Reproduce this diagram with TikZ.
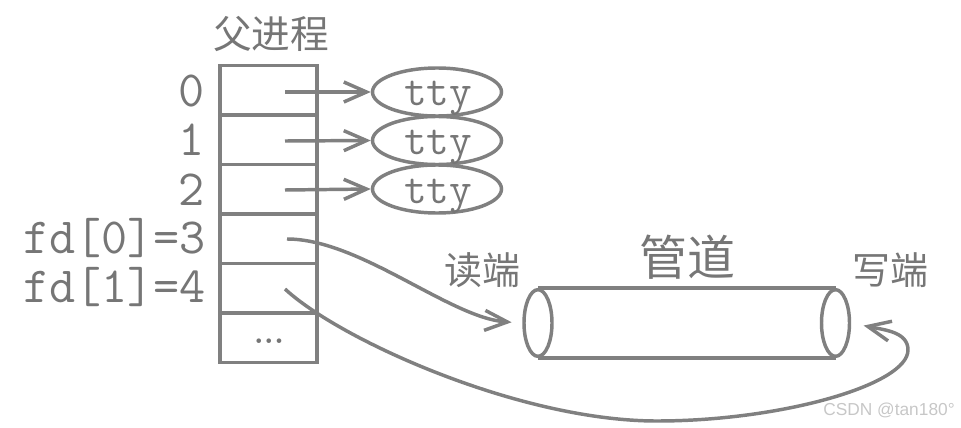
\documentclass[tikz,border=0pt]{standalone}
\usepackage{fontspec}
\newfontfamily\cjk{Noto Sans CJK SC}
\newfontfamily\wmfont{Liberation Sans}
\usetikzlibrary{arrows.meta,shapes.geometric}
\definecolor{lc}{RGB}{128,128,128}
\definecolor{tc}{RGB}{118,118,118}
\begin{document}
\begin{tikzpicture}[x=0.75pt,y=-0.75pt,
  line/.style={draw=lc, line width=2.6pt},
  arr/.style={draw=lc, line width=2.6pt, -{Straight Barb[length=17pt,width=15pt]}},
  cell/.style={draw=lc, line width=2.6pt, minimum width=72.75pt, minimum height=37.125pt, inner sep=0pt},
  ttyn/.style={ellipse, draw=lc, line width=2.6pt, minimum width=96.75pt, minimum height=36pt, inner sep=0pt},
  ttytxt/.style={text=tc, font=\ttfamily\fontsize{33}{33}\selectfont, anchor=base, inner sep=0pt},
  lab/.style={text=tc, font=\ttfamily\fontsize{38}{38}\selectfont, anchor=base east, inner sep=0pt},
  cn/.style={text=tc, inner sep=0pt},
  pend/.style={ellipse, draw=lc, line width=2.6pt, minimum width=21pt, minimum height=50pt, inner sep=0pt}
]
\useasboundingbox (0,0) rectangle (961,428);

% title
\node[cn, font=\cjk\fontsize{29}{29}\selectfont] (title) at (271,34) {父进程};

% table cells
\node[cell] (c0) at (268.5,90.25) {};
\node[cell] (c1) at (268.5,139.75) {};
\node[cell] (c2) at (268.5,189.25) {};
\node[cell] (c3) at (268.5,238.75) {};
\node[cell] (c4) at (268.5,288.25) {};
\node[cell] (c5) at (268.5,337.75) {};
\node[text=tc, font=\bfseries\fontsize{24}{24}\selectfont, anchor=base, inner sep=0pt] (dots) at (269,343) {...};

% labels
\node[lab] (l0) at (205,107) {0};
\node[lab] (l1) at (205,156) {1};
\node[lab] (l2) at (205,205) {2};
\node[lab] (l3) at (206,253) {fd[0]=3};
\node[lab] (l4) at (206,302) {fd[1]=4};

% tty ellipses
\node[ttyn] (t0) at (437,92) {};
\node[ttyn] (t1) at (437,140.5) {};
\node[ttyn] (t2) at (437,189) {};
\node[ttytxt] (tt0) at (438,106) {tty};
\node[ttytxt] (tt1) at (438,154.5) {tty};
\node[ttytxt] (tt2) at (438,203) {tty};

% arrow starts
\coordinate (s0) at (285,92);
\coordinate (s1) at (285,141);
\coordinate (s2) at (285,190);
\coordinate (s3) at (287,239);
\coordinate (s4) at (285,289);

\draw[arr] (s0) -- (t0.west);
\draw[arr] (s1) -- (t1.west);
\draw[arr] (s2) -- (t2.west);

% pipe
\node[pend] (pl) at (538,323) {};
\node[pend] (pr) at (835.5,323) {};
\draw[line] (pl.north) -- (pr.north) (pl.south) -- (pr.south);
\node[cn, font=\cjk\fontsize{36}{36}\selectfont] (pipe) at (687,257) {管道};
\node[cn, font=\cjk\fontsize{28.5}{28.5}\selectfont] (rd) at (482,270) {读端};
\node[cn, font=\cjk\fontsize{28.5}{28.5}\selectfont] (wr) at (890,270) {写端};

% curved connectors
\draw[arr, shorten >=8pt] (s3) .. controls (360,239) and (450,318) .. (pl.west);
\draw[arr, shorten >=9.5pt] (s4) .. controls (340,340) and (520,421) .. (657,421)
   .. controls (780,421) and (908,385) .. (908,350)
   .. controls (908,332) and (885,330) .. (pr.east);

% watermark
\node[text=black!22, font=\wmfont\fontsize{13}{13}\selectfont, inner sep=0pt] (wm) at (889,410) {CSDN @tan180°};
\end{tikzpicture}
\end{document}
